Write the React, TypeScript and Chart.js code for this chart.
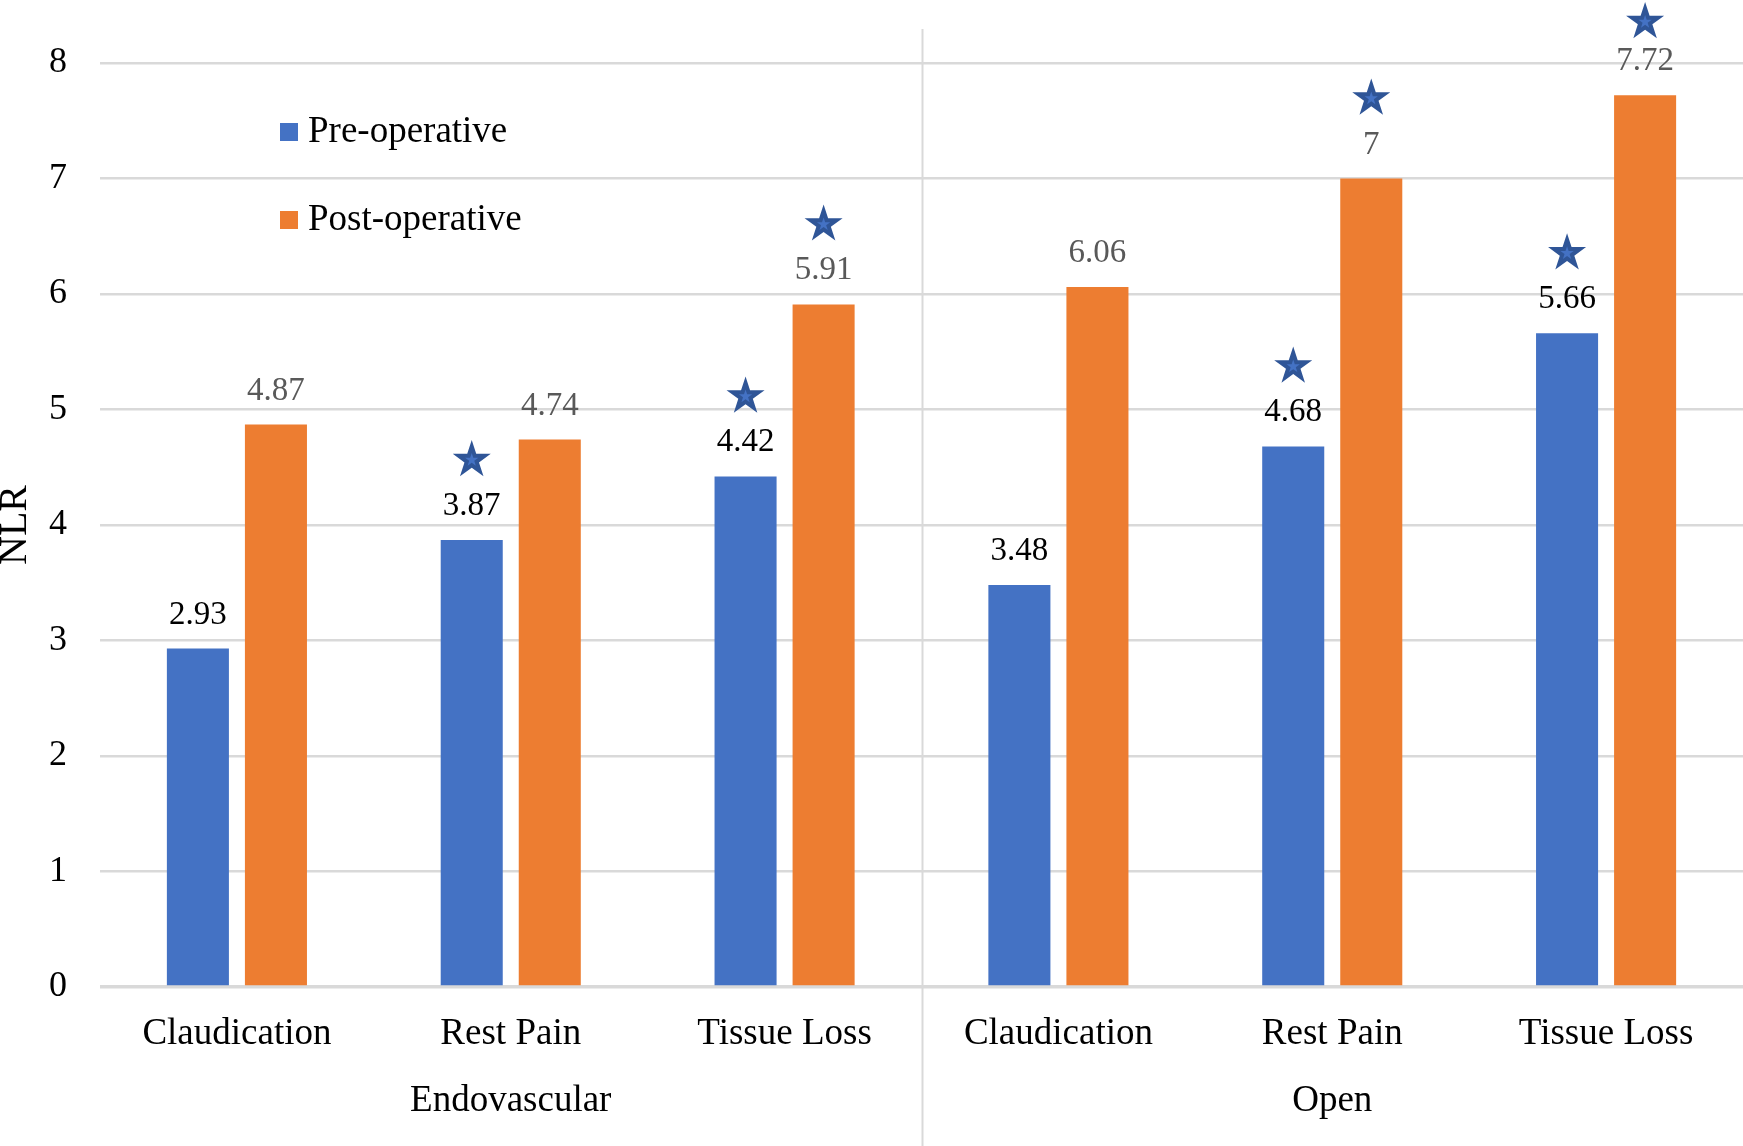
import React, { useEffect, useRef } from "react";
import { Chart, registerables } from "chart.js";

Chart.register(...registerables);

const categories = ["Claudication", "Rest Pain", "Tissue Loss", "Claudication", "Rest Pain", "Tissue Loss"];
const groups = ["Endovascular", "Open"];
const groupSizes = [3, 3];
const seriesNames = ["Pre-operative", "Post-operative"];
const preValues = [2.93, 3.87, 4.42, 3.48, 4.68, 5.66];
const postValues = [4.87, 4.74, 5.91, 6.06, 7, 7.72];
const preSignificant = [false, true, true, false, true, true];
const postSignificant = [false, false, true, false, true, true];
const yMin = 0;
const yMax = 8;
const yStep = 1;
const yTitle = "NLR";

const SERIF = "'Liberation Serif', 'Times New Roman', serif";
const BLUE = "#4472C4";
const ORANGE = "#ED7D31";
const GRID = "#d9d9d9";

function drawStar(ctx: CanvasRenderingContext2D, cx: number, cy: number, R: number, color: string) {
  const r = R * 0.382;
  ctx.beginPath();
  for (let i = 0; i < 10; i++) {
    const rad = i % 2 === 0 ? R : r;
    const a = -Math.PI / 2 + (i * Math.PI) / 5;
    const x = cx + rad * Math.cos(a);
    const y = cy + rad * Math.sin(a);
    if (i === 0) ctx.moveTo(x, y);
    else ctx.lineTo(x, y);
  }
  ctx.closePath();
  ctx.fillStyle = color;
  ctx.fill();
}

const annotationsPlugin = {
  id: "annotations",
  afterDatasetsDraw(chart: any) {
    const ctx: CanvasRenderingContext2D = chart.ctx;
    const sig = [preSignificant, postSignificant];
    ctx.save();
    chart.data.datasets.forEach((ds: any, i: number) => {
      const meta = chart.getDatasetMeta(i);
      meta.data.forEach((bar: any, j: number) => {
        const v = ds.data[j];
        ctx.font = `33px ${SERIF}`;
        ctx.textAlign = "center";
        ctx.textBaseline = "alphabetic";
        ctx.fillStyle = i === 0 ? "#000000" : "#595959";
        ctx.fillText(String(v), bar.x, bar.y - 25);
        if (sig[i][j]) {
          const cy = Math.max(bar.y - 80, 22);
          drawStar(ctx, bar.x, cy, 20, "#2F5597");
          drawStar(ctx, bar.x, cy, 7, BLUE);
        }
      });
    });
    ctx.restore();
  },
  afterDraw(chart: any) {
    const ctx: CanvasRenderingContext2D = chart.ctx;
    const xs = chart.scales.x;
    const area = chart.chartArea;
    ctx.save();
    let idx = 0;
    const catW = (xs.right - xs.left) / categories.length;
    groupSizes.forEach((n, g) => {
      const startX = xs.getPixelForValue(idx) - catW / 2;
      const endX = xs.getPixelForValue(idx + n - 1) + catW / 2;
      if (g > 0) {
        ctx.strokeStyle = GRID;
        ctx.lineWidth = 2;
        ctx.beginPath();
        ctx.moveTo(Math.round(startX) + 0.5, 29);
        ctx.lineTo(Math.round(startX) + 0.5, chart.height);
        ctx.stroke();
      }
      ctx.font = `37px ${SERIF}`;
      ctx.textAlign = "center";
      ctx.textBaseline = "alphabetic";
      ctx.fillStyle = "#000000";
      ctx.fillText(groups[g], (startX + endX) / 2, area.bottom + 124);
      idx += n;
    });
    const legendY = [132, 220];
    chart.data.datasets.forEach((ds: any, i: number) => {
      ctx.fillStyle = ds.backgroundColor;
      ctx.fillRect(280, legendY[i] - 9, 18, 18);
      ctx.font = `37px ${SERIF}`;
      ctx.textAlign = "left";
      ctx.textBaseline = "middle";
      ctx.fillStyle = "#000000";
      ctx.fillText(ds.label, 308, legendY[i]);
    });
    ctx.restore();
  },
};

export default function App() {
  const canvasRef = useRef<HTMLCanvasElement | null>(null);

  useEffect(() => {
    document.body.style.margin = "0";
    const canvas = canvasRef.current;
    if (!canvas) return;
    const chart = new Chart(canvas, {
      type: "bar",
      data: {
        labels: categories,
        datasets: [
          {
            label: seriesNames[0],
            data: preValues,
            backgroundColor: BLUE,
            categoryPercentage: 0.57,
            barPercentage: 0.795,
          },
          {
            label: seriesNames[1],
            data: postValues,
            backgroundColor: ORANGE,
            categoryPercentage: 0.57,
            barPercentage: 0.795,
          },
        ],
      },
      options: {
        responsive: false,
        animation: false,
        devicePixelRatio: 1,
        layout: { padding: { top: 63, left: 0, right: 0, bottom: 0 } },
        plugins: {
          legend: { display: false },
          tooltip: { enabled: false },
        },
        scales: {
          x: {
            grid: { display: false, drawTicks: false },
            border: { display: false },
            ticks: {
              font: { family: SERIF, size: 37 },
              color: "#000000",
              padding: 25,
              maxRotation: 0,
              autoSkip: false,
            },
            afterFit: (scale: any) => {
              scale.height = 159;
            },
          },
          y: {
            min: yMin,
            max: yMax,
            ticks: {
              stepSize: yStep,
              font: { family: SERIF, size: 36 },
              color: "#000000",
              padding: 33,
            },
            grid: {
              color: GRID,
              lineWidth: (c: any) => (c.tick && c.tick.value === 0 ? 3.5 : 2.5),
              drawTicks: false,
            },
            border: { display: false },
            title: {
              display: true,
              text: yTitle,
              font: { family: SERIF, size: 40, lineHeight: 0.75 },
              color: "#000000",
              padding: 0,
            },
            afterFit: (scale: any) => {
              scale.width = 100;
            },
          },
        },
      },
      plugins: [annotationsPlugin],
    });
    return () => chart.destroy();
  }, []);

  return (
    <div style={{ position: "absolute", left: 0, top: 0, width: 1743, height: 1146, background: "#ffffff" }}>
      <canvas ref={canvasRef} width={1743} height={1146} style={{ display: "block" }} />
    </div>
  );
}
